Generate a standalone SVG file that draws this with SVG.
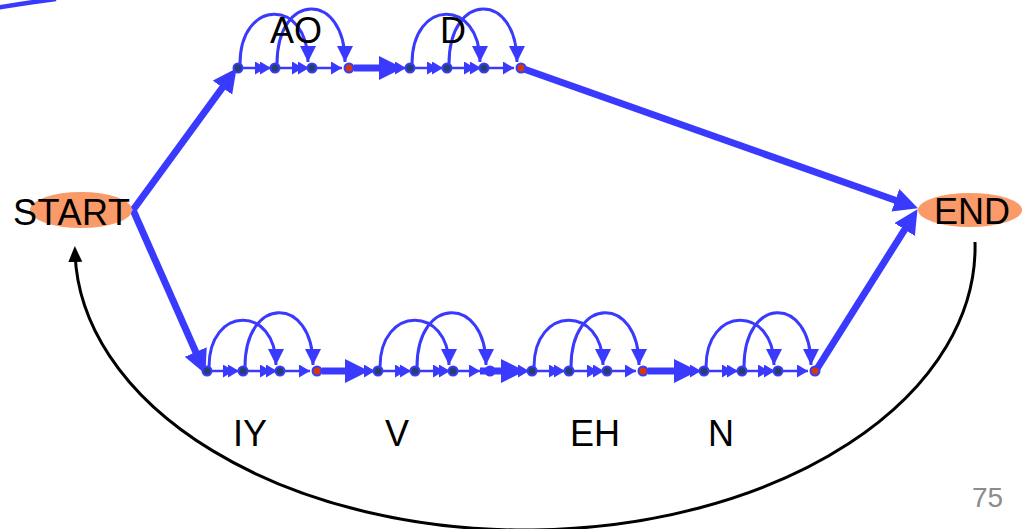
<svg xmlns="http://www.w3.org/2000/svg" width="1029" height="529" viewBox="0 0 1029 529">
<style>
  .lbl{font-family:"Liberation Sans",Arial,sans-serif;font-size:36px;fill:#000}
  .pg{font-family:"Liberation Sans",Arial,sans-serif;font-size:28px;fill:#8c8c8c}
  .arc{fill:none;stroke:#3a3aff;stroke-width:3;marker-end:url(#arcHead)}
  .sm{fill:none;stroke:#3a3aff;stroke-width:2.5;marker-end:url(#smallHead)}
  .thick{fill:none;stroke:#3a3aff;stroke-width:7;marker-end:url(#bigHead)}
  .st{fill:#23406e;stroke:#3a3aff;stroke-width:2}
  .fin{fill:#d23a0a;stroke:#3a3aff;stroke-width:2}
  .hid{fill:#3a3aff;stroke:#3a3aff;stroke-width:2}
  .term{fill:#fa9a68}
</style>
<defs>
  <marker id="arcHead" markerUnits="userSpaceOnUse" markerWidth="17" markerHeight="17" refX="16" refY="8" orient="auto">
    <path d="M0,0 L16,8 L0,16 z" fill="#3a3aff"/>
  </marker>
  <marker id="smallHead" markerUnits="userSpaceOnUse" markerWidth="12" markerHeight="13" refX="11" refY="6.5" orient="auto">
    <path d="M0,0 L11,6.5 L0,13 z" fill="#3a3aff"/>
  </marker>
  <marker id="bigHead" markerUnits="userSpaceOnUse" markerWidth="25" markerHeight="25" refX="15" refY="12" orient="auto">
    <path d="M0,0 L24,12 L0,24 z" fill="#3a3aff"/>
  </marker>
  <marker id="blackHead" markerUnits="userSpaceOnUse" markerWidth="16" markerHeight="18" refX="10" refY="7" orient="auto">
    <path d="M0,0 L16,7 L0,14 z" fill="#000"/>
  </marker>
</defs>
<rect width="1029" height="529" fill="#fff"/>

<g id="connectors">
  <path d="M-5,8 Q25,3 56,-1" fill="none" stroke="#3a3aff" stroke-width="4.5"/>
  <path d="M975,242 A450,283 0 0 1 75,252" fill="none" stroke="#000" stroke-width="3" marker-end="url(#blackHead)"/>

  <path class="thick" d="M133,210 L231.3,75.5"/>
  <path class="thick" d="M133,210 L201.8,365.7"/>
  <path class="thick" d="M521,68 L909.5,205.3"/>
  <path class="thick" d="M815,372 L912.7,216.8"/>

  <path class="sm" d="M242,68 L266,68"/><path class="sm" d="M266,68 L271,68"/>
  <path class="sm" d="M279,68 L303,68"/><path class="sm" d="M303,68 L309,68"/>
  <path class="sm" d="M316,68 L342,68"/>
  <path class="arc" d="M240,64 C240,-2 308,-2 308,62"/>
  <path class="arc" d="M277,64 C277,-9 345,-9 345,62"/>
  <path class="thick" d="M354,68 L394,68"/><path class="sm" d="M394,68 L406,68"/>
  <path class="sm" d="M414,68 L438,68"/><path class="sm" d="M438,68 L443,68"/>
  <path class="sm" d="M451,68 L475,68"/><path class="sm" d="M475,68 L481,68"/>
  <path class="sm" d="M488,68 L514,68"/>
  <path class="arc" d="M412,64 C412,-2 480,-2 480,62"/>
  <path class="arc" d="M449,64 C449,-9 517,-9 517,62"/>

  <path class="sm" d="M211,371 L234,371"/><path class="sm" d="M234,371 L239,371"/>
  <path class="sm" d="M247,371 L271,371"/><path class="sm" d="M271,371 L277,371"/>
  <path class="sm" d="M284,371 L310,371"/>
  <path class="arc" d="M209,367 C209,305 276,305 276,365"/>
  <path class="arc" d="M245,367 C245,295 313,295 313,365"/>
  <path class="thick" d="M322,371 L360,371"/><path class="sm" d="M360,371 L375,371"/>
  <path class="sm" d="M382,371 L406,371"/><path class="sm" d="M406,371 L411,371"/>
  <path class="sm" d="M419,371 L444,371"/><path class="sm" d="M444,371 L450,371"/>
  <path class="sm" d="M457,371 L480,371"/>
  <path class="arc" d="M380,367 C380,305 449,305 449,365"/>
  <path class="arc" d="M417,367 C417,295 486,295 486,365"/>
  <path class="thick" d="M480,371 L516,371"/><path class="sm" d="M516,371 L529,371"/>
  <path class="sm" d="M536,371 L560,371"/><path class="sm" d="M560,371 L565,371"/>
  <path class="sm" d="M573,371 L598,371"/><path class="sm" d="M598,371 L604,371"/>
  <path class="sm" d="M611,371 L636,371"/>
  <path class="arc" d="M534,367 C534,305 603,305 603,365"/>
  <path class="arc" d="M571,367 C571,295 639,295 639,365"/>
  <path class="thick" d="M648,371 L689,371"/><path class="sm" d="M689,371 L701,371"/>
  <path class="sm" d="M708,371 L733,371"/><path class="sm" d="M733,371 L738,371"/>
  <path class="sm" d="M746,371 L769,371"/><path class="sm" d="M769,371 L775,371"/>
  <path class="sm" d="M782,371 L808,371"/>
  <path class="arc" d="M706,367 C706,305 774,305 774,365"/>
  <path class="arc" d="M744,367 C744,295 811,295 811,365"/>
</g>

<g id="START">
  <ellipse class="term" cx="81" cy="210" rx="51" ry="18"/>
  <text class="lbl" x="13" y="225" textLength="117">START</text>
</g>
<g id="END">
  <ellipse class="term" cx="970" cy="210" rx="52" ry="17"/>
  <text class="lbl" x="934" y="224">END</text>
</g>

<g id="AO">
  <circle class="st" cx="238" cy="68" r="4.5"/><circle class="st" cx="275" cy="68" r="4.5"/>
  <circle class="st" cx="312" cy="68" r="4.5"/><circle class="fin" cx="349" cy="68" r="4.5"/>
  <text class="lbl" x="270" y="43">AO</text>
</g>
<g id="D">
  <circle class="st" cx="410" cy="68" r="4.5"/><circle class="st" cx="447" cy="68" r="4.5"/>
  <circle class="st" cx="484" cy="68" r="4.5"/><circle class="fin" cx="521" cy="68" r="4.5"/>
  <text class="lbl" x="440" y="43">D</text>
</g>
<g id="IY">
  <circle class="st" cx="207" cy="371" r="4.5"/><circle class="st" cx="243" cy="371" r="4.5"/>
  <circle class="st" cx="280" cy="371" r="4.5"/><circle class="fin" cx="317" cy="371" r="4.5"/>
  <text class="lbl" x="233" y="446">IY</text>
</g>
<g id="V">
  <circle class="st" cx="378" cy="371" r="4.5"/><circle class="st" cx="415" cy="371" r="4.5"/>
  <circle class="st" cx="453" cy="371" r="4.5"/><circle class="hid" cx="490" cy="371" r="4.5"/>
  <text class="lbl" x="385" y="446">V</text>
</g>
<g id="EH">
  <circle class="st" cx="532" cy="371" r="4.5"/><circle class="st" cx="569" cy="371" r="4.5"/>
  <circle class="st" cx="607" cy="371" r="4.5"/><circle class="fin" cx="643" cy="371" r="4.5"/>
  <text class="lbl" x="570" y="446">EH</text>
</g>
<g id="N">
  <circle class="st" cx="704" cy="371" r="4.5"/><circle class="st" cx="742" cy="371" r="4.5"/>
  <circle class="st" cx="778" cy="371" r="4.5"/><circle class="fin" cx="815" cy="371" r="4.5"/>
  <text class="lbl" x="708" y="446">N</text>
</g>

<text class="pg" x="972" y="507">75</text>
</svg>
